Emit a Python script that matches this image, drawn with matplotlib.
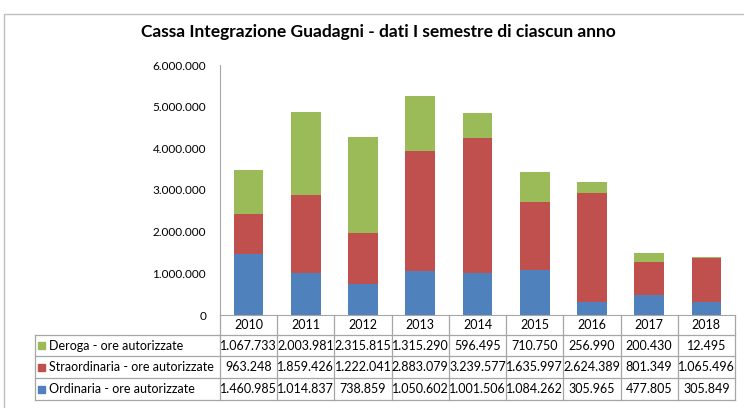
import matplotlib
matplotlib.use("Agg")
from matplotlib import pyplot as plt
from matplotlib.patches import Rectangle
from matplotlib.lines import Line2D
import matplotlib.transforms as mtransforms

plt.rcParams['font.family'] = ['Lato', 'DejaVu Sans']

years = ['2010', '2011', '2012', '2013', '2014', '2015', '2016', '2017', '2018']
ordinaria = [1460985, 1014837, 738859, 1050602, 1001506, 1084262, 305965, 477805, 305849]
straordinaria = [963248, 1859426, 1222041, 2883079, 3239577, 1635997, 2624389, 801349, 1065496]
deroga = [1067733, 2003981, 2315815, 1315290, 596495, 710750, 256990, 200430, 12495]

series_names = ['Deroga - ore autorizzate', 'Straordinaria - ore autorizzate',
                'Ordinaria - ore autorizzate']
colors = {'ord': '#4F81BD', 'stra': '#C0504D', 'der': '#9BBB59'}
grid_col = '#A6A6A6'

W, H = 744, 408
fig = plt.figure(figsize=(W / 100, H / 100), dpi=100)

# outer chart frame
fig.patches.append(Rectangle((4 / W, -0.1), 2, 1 - 14 / H + 0.1, transform=fig.transFigure,
                             fill=False, edgecolor='#BFBFBF', lw=1))

x0, x1 = 220, 735
ytop, ybot = 65, 315
ax = fig.add_axes([x0 / W, (H - ybot) / H, (x1 - x0) / W, (ybot - ytop) / H])

idx = list(range(len(years)))
bottom2 = [a + b for a, b in zip(ordinaria, straordinaria)]
bw = 0.52
ax.bar(idx, ordinaria, width=bw, color=colors['ord'])
ax.bar(idx, straordinaria, width=bw, bottom=ordinaria, color=colors['stra'])
ax.bar(idx, deroga, width=bw, bottom=bottom2, color=colors['der'])

ax.set_xlim(-0.5, len(years) - 0.5)
ax.set_ylim(0, 6000000)
ax.set_yticks(range(0, 6000001, 1000000))
ax.set_yticklabels(['{:,}'.format(v).replace(',', '.') for v in range(0, 6000001, 1000000)],
                   fontsize=8.5)
ax.tick_params(axis='y', length=0, pad=10)
ax.set_xticks([])
for s in ['top', 'right']:
    ax.spines[s].set_visible(False)
ax.spines['left'].set_color(grid_col)
ax.spines['bottom'].set_color(grid_col)

fig.text(0.508, 1 - 32 / H, 'Cassa Integrazione Guadagni - dati I semestre di ciascun anno',
         ha='center', va='center', fontsize=12.5, fontweight='bold')

# data table below the plot
trans = mtransforms.blended_transform_factory(ax.transData, fig.transFigure)
row_edges = [315, 335, 356, 378, 400]
label_left = 35
lw = 0.9
fs = 9

def fy(p):
    return 1 - p / H

# vertical lines
for k in range(len(years) + 1):
    xv = k - 0.5
    fig.add_artist(Line2D([xv, xv], [fy(row_edges[0]), fy(row_edges[-1])],
                          transform=trans, color=grid_col, lw=lw))
fig.add_artist(Line2D([label_left / W] * 2, [fy(row_edges[1]), fy(row_edges[-1])],
                      transform=fig.transFigure, color=grid_col, lw=lw))
# horizontal lines
for r in row_edges[1:]:
    fig.add_artist(Line2D([label_left / W, x1 / W], [fy(r)] * 2,
                          transform=fig.transFigure, color=grid_col, lw=lw))

# year header
for i, yr in enumerate(years):
    fig.text(i, fy((row_edges[0] + row_edges[1]) / 2), yr, transform=trans,
             ha='center', va='center', fontsize=fs)

rows = [(series_names[0], deroga, colors['der']),
        (series_names[1], straordinaria, colors['stra']),
        (series_names[2], ordinaria, colors['ord'])]
for r, (name, vals, col) in enumerate(rows):
    yc = fy((row_edges[r + 1] + row_edges[r + 2]) / 2)
    fig.patches.append(Rectangle((38 / W, yc - 3.5 / H), 7 / W, 7 / H,
                                 transform=fig.transFigure, color=col))
    fig.text(49 / W, yc, name, ha='left', va='center', fontsize=fs)
    for i, v in enumerate(vals):
        fig.text(i, yc, '{:,}'.format(v).replace(',', '.'), transform=trans,
                 ha='center', va='center', fontsize=fs)

fig.savefig('out.png', dpi=100)
